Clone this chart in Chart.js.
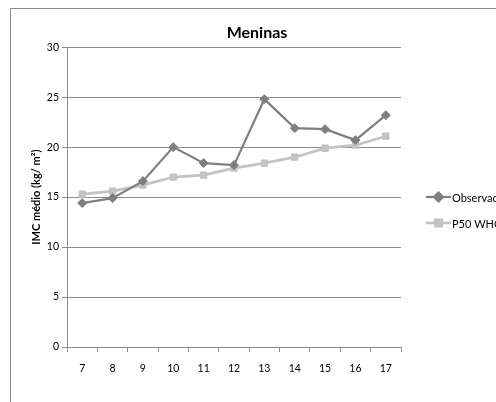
<!DOCTYPE html>
<html>
<head>
<meta charset="utf-8">
<script src="https://cdn.jsdelivr.net/npm/chart.js@4.4.0/dist/chart.umd.min.js"></script>
<style>
  html, body { margin: 0; padding: 0; background: #fff; overflow: hidden; }
  .frame { position: absolute; left: 10px; top: 8px; width: 540px; height: 440px; border: 1px solid #8c8c8c; }
  .wrap { position: absolute; left: 0; top: 0; width: 514px; height: 420px; }
</style>
</head>
<body>
<div class="frame"></div>
<div class="wrap"><canvas id="chart"></canvas></div>
<script>
// data
const ages = ['7', '8', '9', '10', '11', '12', '13', '14', '15', '16', '17']
const observado = [14.4, 14.9, 16.6, 20.0, 18.4, 18.2, 24.8, 21.9, 21.8, 20.7, 23.2]
const p50who = [15.3, 15.6, 16.2, 17.0, 17.2, 17.9, 18.4, 19.0, 19.9, 20.2, 21.1]
const yTicks = [0, 5, 10, 15, 20, 25, 30]

const FONT = "Lato, 'Open Sans', sans-serif"

// legend drawn like the office style: line + marker + text
const sideLegend = {
    id: 'sideLegend',
    afterDraw(chart) {
        const ctx = chart.ctx
        const x0 = 426, x1 = 451
        const rows = [197, 223]
        chart.data.datasets.forEach(function (ds, i) {
            const y = rows[i]
            ctx.save()
            ctx.strokeStyle = ds.borderColor
            ctx.lineWidth = ds.borderWidth
            ctx.beginPath()
            ctx.moveTo(x0, y)
            ctx.lineTo(x1, y)
            ctx.stroke()
            Chart.helpers.drawPoint(ctx, {
                pointStyle: ds.pointStyle,
                radius: ds.pointRadius,
                borderWidth: 1
            }, (x0 + x1) / 2, y)
            ctx.fillStyle = ds.borderColor
            ctx.fill()
            ctx.fillStyle = '#000'
            ctx.font = '11px ' + FONT
            ctx.textBaseline = 'middle'
            ctx.fillText(ds.label, x1 + 1, y + 1)
            ctx.restore()
        })
    }
}

new Chart(document.getElementById('chart'), {
    type: 'line',
    data: {
        labels: ages,
        datasets: [
            {
                label: 'Observado',
                data: observado,
                borderColor: '#7f7f7f',
                backgroundColor: '#7f7f7f',
                borderWidth: 2.2,
                pointStyle: 'rectRot',
                pointRadius: 4.5,
                pointBorderWidth: 1,
                tension: 0
            },
            {
                label: 'P50 WHO',
                data: p50who,
                borderColor: '#c3c3c3',
                backgroundColor: '#c3c3c3',
                borderWidth: 2.6,
                pointStyle: 'rect',
                pointRadius: 4.5,
                pointBorderWidth: 1,
                tension: 0
            }
        ]
    },
    plugins: [sideLegend],
    options: {
        responsive: true,
        maintainAspectRatio: false,
        animation: false,
        layout: { padding: 0 },
        plugins: {
            legend: { display: false },
            tooltip: { enabled: false },
            title: {
                display: true,
                text: 'Meninas',
                color: '#000',
                font: { family: FONT, size: 16, weight: 'bold' },
                padding: { top: 23, bottom: 5 }
            }
        },
        scales: {
            x: {
                offset: true,
                grid: {
                    offset: true,
                    drawOnChartArea: false,
                    drawTicks: true,
                    tickLength: 5,
                    color: '#8c8c8c'
                },
                border: { color: '#8c8c8c', width: 1 },
                ticks: {
                    color: '#000',
                    font: { family: FONT, size: 10.5 },
                    padding: 10,
                    maxRotation: 0
                },
                title: {
                    display: true,
                    text: 'Idade (anos)',
                    color: '#000',
                    font: { family: FONT, size: 10.5, weight: 'bold' },
                    padding: { top: 5, bottom: 0 }
                },
                afterFit(scale) { scale.height = 73 }
            },
            y: {
                min: 0,
                max: 30,
                afterBuildTicks(scale) {
                    scale.ticks = yTicks.map(function (v) { return { value: v } })
                },
                grid: {
                    color: '#8c8c8c',
                    tickLength: 5,
                    lineWidth: 1
                },
                border: { color: '#8c8c8c', width: 1 },
                ticks: {
                    color: '#000',
                    font: { family: FONT, size: 10.5 },
                    padding: 3
                },
                title: {
                    display: true,
                    text: 'IMC médio (kg/ m²)',
                    color: '#000',
                    font: { family: FONT, size: 11, weight: 'bold' },
                    padding: { top: 30, bottom: 4 }
                },
                afterFit(scale) { scale.width = 67 }
            },
            // empty right axis only reserves room for the legend
            side: {
                position: 'right',
                display: true,
                grid: { display: false },
                border: { display: false },
                ticks: { display: false },
                afterFit(scale) { scale.width = 113 }
            }
        }
    }
})
</script>
</body>
</html>
